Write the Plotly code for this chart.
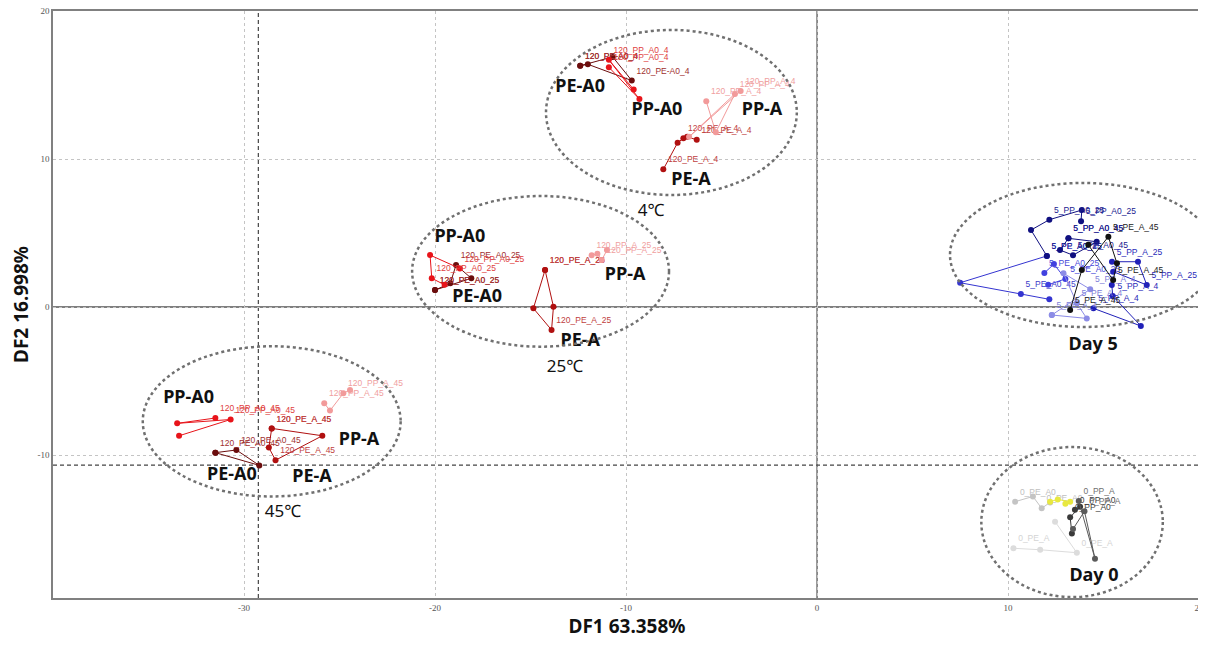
import plotly.graph_objects as go

# ---------------- data ----------------
# 4 degC, day 120
t4_pe_a0_x = [-12.4, -12.0, -9.7, -10.7, -12.4]
t4_pe_a0_y = [16.3, 16.4, 15.3, 16.9, 16.3]
t4_pp_a0_x = [-10.9, -9.3, -10.9, -9.6]
t4_pp_a0_y = [16.2, 14.05, 16.7, 14.7]
t4_pe_a_x = [-8.05, -7.3, -7.0, -6.8, -6.3]
t4_pe_a_y = [9.3, 11.1, 11.4, 11.5, 11.3]
t4_pp_a_x = [-5.8, -5.3, -4.3, -6.7, -4.0]
t4_pp_a_y = [13.9, 11.8, 14.4, 11.5, 14.6]

# 25 degC, day 120
t25_pe_a0_x = [-20.0, -19.2, -18.9, -18.1, -20.0]
t25_pe_a0_y = [1.15, 1.6, 2.84, 1.94, 1.15]
t25_pp_a0_x = [-18.7, -20.26, -20.17, -19.5]
t25_pp_a0_y = [2.6, 3.51, 1.94, 1.5]
t25_pe_a_x = [-14.24, -14.85, -13.9, -13.8, -14.24]
t25_pe_a_y = [2.5, -0.09, -1.55, 0.02, 2.5]
t25_pp_a_x = [-11.8, -11.5, -11.27, -11.0]
t25_pp_a_y = [3.5, 3.6, 3.17, 3.85]

# 45 degC, day 120
t45_pe_a0_x = [-31.5, -29.2, -30.4, -31.5]
t45_pe_a0_y = [-9.84, -10.7, -9.66, -9.84]
t45_pp_a0_x = [-31.5, -33.5, -30.7, -33.4]
t45_pp_a0_y = [-7.5, -7.86, -7.6, -8.7]
t45_pe_a_x = [-28.55, -25.9, -28.35, -28.7, -28.55]
t45_pe_a_y = [-8.2, -8.7, -10.35, -9.5, -8.2]
t45_pp_a_x = [-25.8, -25.5, -24.8, -24.45]
t45_pp_a_y = [-6.5, -7.0, -5.83, -5.6]

# Day 5
d5_pe_a0_45_x = [12.03, 7.49, 10.67, 12.16]
d5_pe_a0_45_y = [3.45, 1.64, 0.88, 0.52]
d5_pp_a0_25_x = [12.03, 11.2, 12.16, 13.86, 13.82]
d5_pp_a0_25_y = [3.45, 5.2, 5.9, 6.55, 5.8]
d5_pp_a0_45_x = [13.16, 12.72, 13.4, 14.64, 13.16]
d5_pp_a0_45_y = [4.64, 3.85, 3.5, 4.41, 4.64]
d5_pe_a0_25_x = [11.9, 12.4, 13.0, 12.1]
d5_pe_a0_25_y = [2.3, 2.9, 1.9, 1.5]
d5_pp_a_25_x = [15.44, 16.8, 17.26, 15.5]
d5_pp_a_25_y = [3.06, 3.06, 1.49, 2.39]
d5_pp_a_4_x = [14.47, 16.95, 15.48, 15.43]
d5_pp_a_4_y = [-0.09, -1.28, 0.74, 1.49]
d5_pe_a_4_x = [12.29, 14.12, 13.6, 12.9, 14.3, 12.29]
d5_pe_a_4_y = [-0.54, -0.77, 0.25, 2.28, 1.2, -0.54]
d5_pe_a_45_x = [13.25, 13.86, 15.25, 15.7, 15.5, 14.2]
d5_pe_a_45_y = [-0.2, 2.5, 4.75, 2.95, 1.82, 4.2]

# Day 0
d0_pe_a0_x = [10.37, 11.3, 11.76, 12.2]
d0_pe_a0_y = [-13.15, -12.8, -13.6, -13.2]
d0_pe_a_x = [10.28, 11.68, 13.6, 12.46]
d0_pe_a_y = [-16.3, -16.4, -16.6, -14.5]
d0_yellow_x = [12.2, 12.6, 13.25, 13.0]
d0_yellow_y = [-13.15, -13.0, -13.15, -13.3]
d0_pp_a0_x = [13.5, 13.77, 13.25, 13.34]
d0_pp_a0_y = [-13.7, -13.5, -14.2, -15.3]
d0_pp_a_x = [13.7, 14.55, 14.0, 13.4]
d0_pp_a_y = [-13.1, -17.0, -13.8, -15.0]

# group labels
cluster_labels = ["PE-A0", "PP-A0", "PP-A", "PE-A",
                  "PP-A0", "PP-A", "PE-A0", "PE-A",
                  "PP-A0", "PP-A", "PE-A0", "PE-A",
                  "Day 5", "Day 0"]
cluster_label_x = [-12.4, -8.38, -2.88, -6.6,
                   -18.7, -10.05, -17.8, -12.4,
                   -32.9, -23.98, -30.63, -26.44,
                   14.45, 14.5]
cluster_label_y = [14.86, 13.3, 13.3, 8.58,
                   4.73, 2.16, 0.61, -2.3,
                   -6.15, -8.99, -11.35, -11.55,
                   -2.57, -18.18]
temp_labels = ["4℃", "25℃", "45℃"]
temp_label_x = [-8.69, -13.2, -27.96]
temp_label_y = [6.42, -4.12, -13.92]

# ellipses (x0, x1, y0, y1)
ell_x0 = [-14.19, -21.2, -35.3, 6.96, 8.6]
ell_x1 = [-1.06, -7.75, -21.8, 20.9, 18.1]
ell_y0 = [7.57, -2.68, -12.8, -1.35, -19.6]
ell_y1 = [18.72, 7.5, -2.65, 8.38, -9.46]

x_ticks = [-30, -20, -10, 0, 10, 20]
y_ticks = [-10, 0, 10, 20]
centroid_x = -29.25
centroid_y = -10.68

# ---------------- figure ----------------
groups = [
    (t4_pe_a0_x, t4_pe_a0_y, "120_PE-A0_4", "#6b0d0d", "#a03030"),
    (t4_pp_a0_x, t4_pp_a0_y, "120_PP_A0_4", "#e8141a", "#e04040"),
    (t4_pe_a_x, t4_pe_a_y, "120_PE_A_4", "#b01010", "#c04040"),
    (t4_pp_a_x, t4_pp_a_y, "120_PP_A_4", "#f29a9a", "#f0a0a0"),
    (t25_pe_a0_x, t25_pe_a0_y, "120_PE_A0_25", "#6b0d0d", "#a03030"),
    (t25_pp_a0_x, t25_pp_a0_y, "120_PP_A0_25", "#e8141a", "#e04040"),
    (t25_pe_a_x, t25_pe_a_y, "120_PE_A_25", "#b01010", "#c04040"),
    (t25_pp_a_x, t25_pp_a_y, "120_PP_A_25", "#f29a9a", "#f0a0a0"),
    (t45_pe_a0_x, t45_pe_a0_y, "120_PE_A0_45", "#6b0d0d", "#a03030"),
    (t45_pp_a0_x, t45_pp_a0_y, "120_PP_A0_45", "#e8141a", "#e04040"),
    (t45_pe_a_x, t45_pe_a_y, "120_PE_A_45", "#b01010", "#c04040"),
    (t45_pp_a_x, t45_pp_a_y, "120_PP_A_45", "#f29a9a", "#f0a0a0"),
    (d5_pe_a0_45_x, d5_pe_a0_45_y, "5_PE_A0_45", "#3434d0", "#3c3cc8"),
    (d5_pp_a0_25_x, d5_pp_a0_25_y, "5_PP_A0_25", "#101080", "#202090"),
    (d5_pp_a0_45_x, d5_pp_a0_45_y, "5_PP_A0_45", "#101080", "#202090"),
    (d5_pe_a0_25_x, d5_pe_a0_25_y, "5_PE_A0_25", "#4040e0", "#4848d8"),
    (d5_pp_a_25_x, d5_pp_a_25_y, "5_PP_A_25", "#2020b8", "#2a2ab8"),
    (d5_pp_a_4_x, d5_pp_a_4_y, "5_PP_A_4", "#2020b8", "#2a2ab8"),
    (d5_pe_a_4_x, d5_pe_a_4_y, "5_PE_A_4", "#8c8ce6", "#8080d8"),
    (d5_pe_a_45_x, d5_pe_a_45_y, "5_PE_A_45", "#111111", "#222222"),
    (d0_pe_a0_x, d0_pe_a0_y, "0_PE_A0", "#c4c4c4", "#c0c0c0"),
    (d0_pe_a_x, d0_pe_a_y, "0_PE_A", "#dcdcdc", "#d4d4d4"),
    (d0_yellow_x, d0_yellow_y, "", "#e8e840", "#e8e840"),
    (d0_pp_a0_x, d0_pp_a0_y, "0_PP_A0", "#3a3a3a", "#404040"),
    (d0_pp_a_x, d0_pp_a_y, "0_PP_A", "#5a5a5a", "#707070"),
]

fig = go.Figure()

for gx, gy, name, col, tcol in groups:
    texts = [name if i % 2 == 0 else "" for i in range(len(gx))]
    fig.add_trace(go.Scatter(
        x=gx, y=gy, mode="lines+markers+text",
        line=dict(color=col, width=1),
        marker=dict(color=col, size=6),
        text=texts, textposition="top right",
        textfont=dict(size=8.5, color=tcol, family="Liberation Sans"),
        showlegend=False, hoverinfo="skip", cliponaxis=True,
    ))

fig.add_trace(go.Scatter(
    x=cluster_label_x, y=cluster_label_y, mode="text",
    text=[f"<b>{t}</b>" for t in cluster_labels],
    textfont=dict(size=18, color="#111111", family="Noto Sans"),
    showlegend=False, hoverinfo="skip",
))
fig.add_trace(go.Scatter(
    x=temp_label_x, y=temp_label_y, mode="text",
    text=temp_labels,
    textfont=dict(size=17, color="#111111", family="Noto Sans"),
    showlegend=False, hoverinfo="skip",
))

shapes = []
for x0, x1, y0, y1 in zip(ell_x0, ell_x1, ell_y0, ell_y1):
    shapes.append(dict(type="circle", xref="x", yref="y",
                       x0=x0, x1=x1, y0=y0, y1=y1,
                       line=dict(color="#707070", width=2.5, dash="dot"),
                       layer="above"))
# centroid dashed lines
shapes.append(dict(type="line", xref="x", yref="paper", x0=centroid_x, x1=centroid_x,
                   y0=0, y1=1, line=dict(color="#444444", width=1.2, dash="4px,3px"), layer="below"))
shapes.append(dict(type="line", xref="paper", yref="y", x0=0, x1=1,
                   y0=centroid_y, y1=centroid_y, line=dict(color="#444444", width=1.2, dash="4px,3px"), layer="below"))
# zero axes
shapes.append(dict(type="line", xref="x", yref="paper", x0=0, x1=0, y0=0, y1=1,
                   line=dict(color="#555555", width=1.3), layer="below"))
shapes.append(dict(type="line", xref="paper", yref="y", x0=0, x1=1, y0=0, y1=0,
                   line=dict(color="#555555", width=1.3), layer="below"))

# page body has an 8px margin, so the figure is sized to fit inside the window
fig.update_layout(
    width=1198, height=638,
    margin=dict(l=45, r=5, t=3, b=48, autoexpand=False),
    paper_bgcolor="white", plot_bgcolor="white",
    shapes=shapes,
    xaxis=dict(range=[-40, 20.1], tickvals=x_ticks, ticktext=[str(v) for v in x_ticks],
               automargin=False, ticklabeloverflow="allow",
               showgrid=True, gridcolor="#c4c4c4", griddash="dot", gridwidth=1,
               zeroline=False, showline=True, mirror=True, linecolor="#808080", linewidth=1.5,
               tickfont=dict(size=9, color="#555555", family="Liberation Sans Narrow"),
               ticks="", title=dict(text="<b>DF1 63.358%</b>", standoff=8,
                                    font=dict(size=19, color="#111111", family="Noto Sans"))),
    yaxis=dict(range=[-19.66, 20], tickvals=y_ticks, ticktext=[str(v) for v in y_ticks],
               automargin=False, ticklabeloverflow="allow",
               showgrid=True, gridcolor="#c4c4c4", griddash="dot", gridwidth=1,
               zeroline=False, showline=True, mirror=True, linecolor="#808080", linewidth=1.5,
               tickfont=dict(size=9, color="#555555", family="Liberation Sans Narrow"),
               ticks="", title=dict(text="<b>DF2 16.998%</b>", standoff=10,
                                    font=dict(size=19, color="#111111", family="Noto Sans"))),
)

fig.write_html("out.html")
